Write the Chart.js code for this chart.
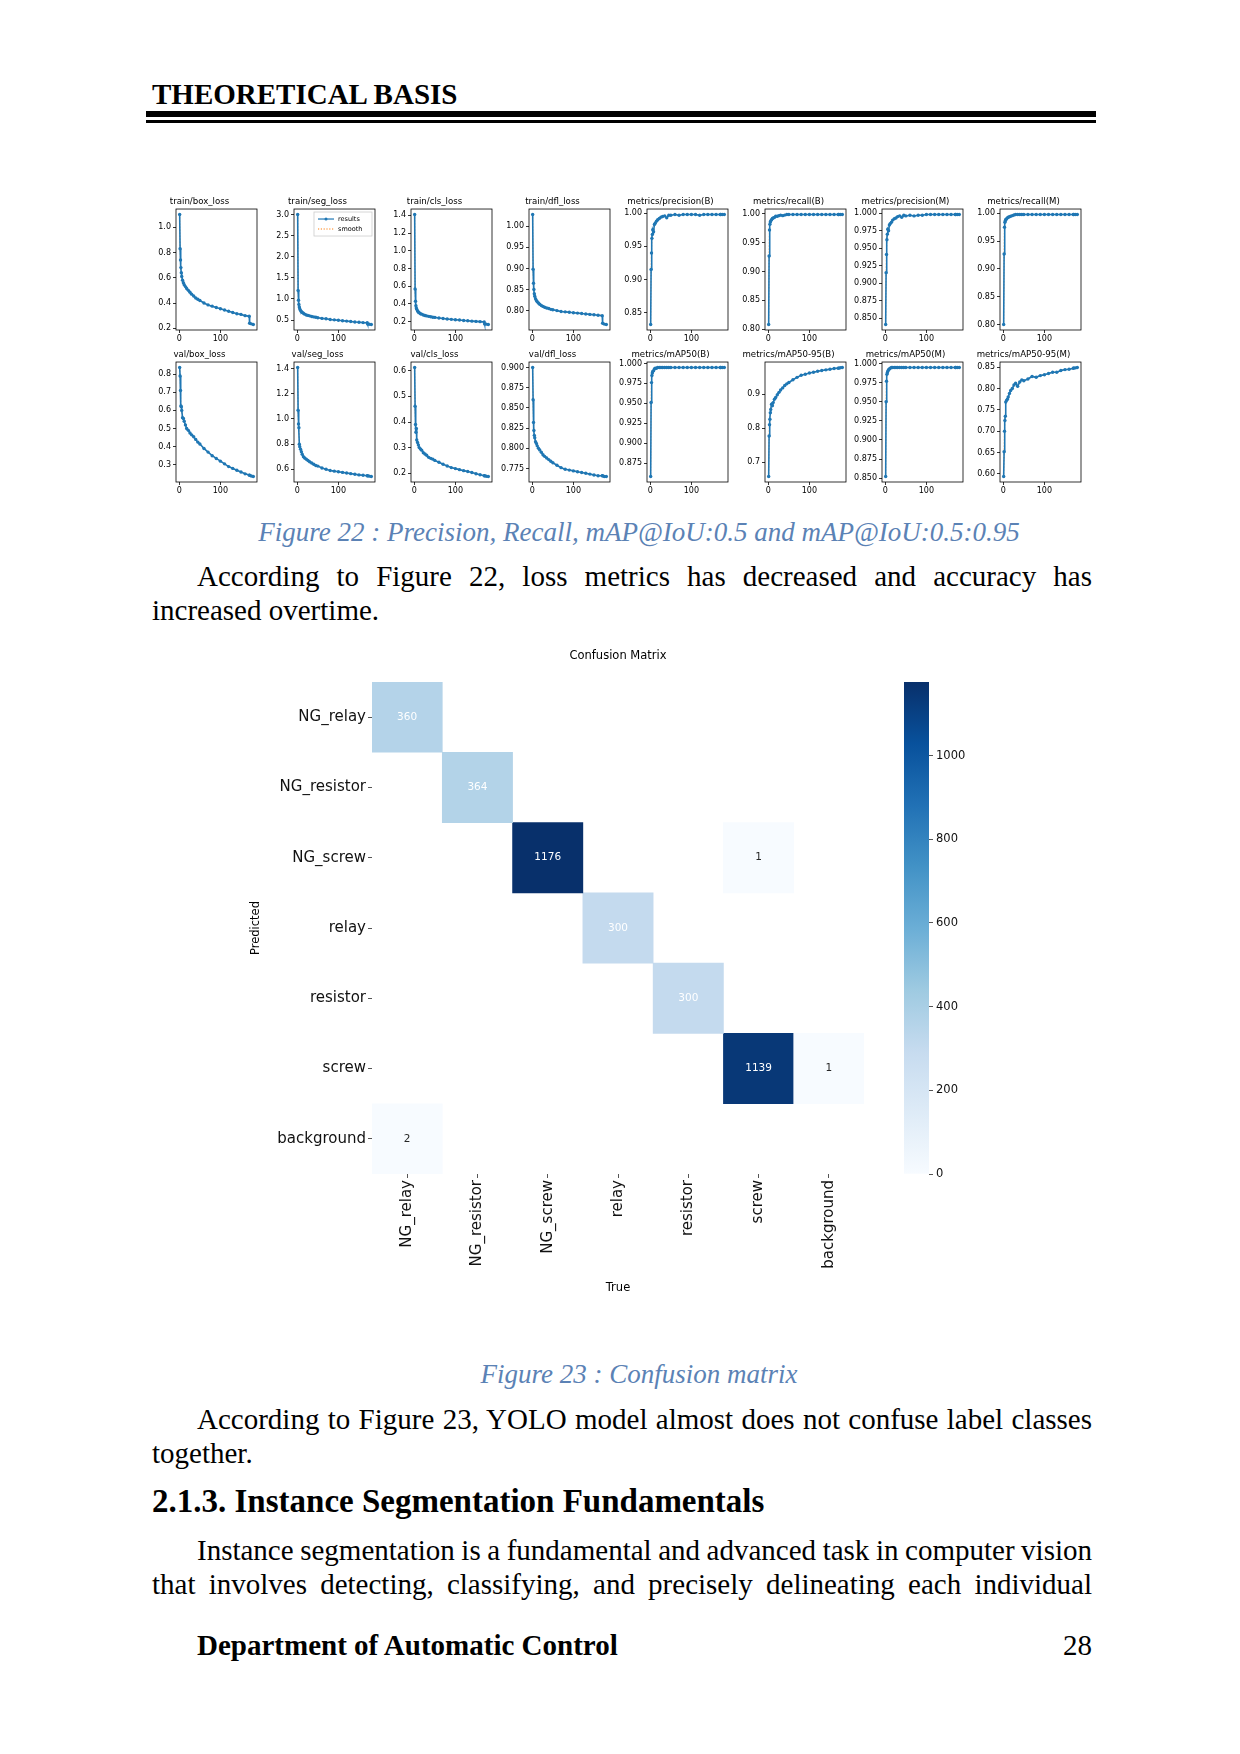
<!DOCTYPE html>
<html>
<head>
<meta charset="utf-8">
<script src="https://cdn.jsdelivr.net/npm/chart.js@4.4.1/dist/chart.umd.min.js"></script>
<style>
  html, body { margin: 0; padding: 0; background: #fff; }
  #page { position: relative; width: 1240px; height: 1754px; overflow: hidden; background: #fff; }
  .t { position: absolute; font-family: "Liberation Serif", "Times New Roman", serif; line-height: 1; color: #000; white-space: nowrap; }
  .cap { font-style: italic; color: #5b82b5; text-align: center; }
  .rule { position: absolute; background: #000; }
  canvas { position: absolute; }
</style>
</head>
<body>
<div id="page">
  <div class="t" style="left:152px; top:80px; font-size:29px; font-weight:bold;">THEORETICAL BASIS</div>
  <div class="rule" style="left:146px; top:111px; width:950px; height:6px;"></div>
  <div class="rule" style="left:146px; top:120px; width:950px; height:3px;"></div>

  <div class="t cap" style="left:239px; width:800px; top:519px; font-size:27px;">Figure 22 : Precision, Recall, mAP@IoU:0.5 and mAP@IoU:0.5:0.95</div>
  <div class="t j" data-w="895" style="left:197px; top:562px; font-size:29px;">According to Figure 22, loss metrics has decreased and accuracy has</div>
  <div class="t" style="left:152px; top:596px; font-size:29px;">increased overtime.</div>

  <div class="t cap" style="left:239px; width:800px; top:1361px; font-size:27px;">Figure 23 : Confusion matrix</div>
  <div class="t j" data-w="895" style="left:197px; top:1405px; font-size:29px;">According to Figure 23, YOLO model almost does not confuse label classes</div>
  <div class="t" style="left:152px; top:1439px; font-size:29px;">together.</div>
  <div class="t" style="left:152px; top:1485px; font-size:33px; font-weight:bold;">2.1.3. Instance Segmentation Fundamentals</div>
  <div class="t j" data-w="895" style="left:197px; top:1536px; font-size:29px;">Instance segmentation is a fundamental and advanced task in computer vision</div>
  <div class="t j" data-w="940" style="left:152px; top:1570px; font-size:29px;">that involves detecting, classifying, and precisely delineating each individual</div>
  <div class="t" style="left:197px; top:1631px; font-size:29px; font-weight:bold;">Department of Automatic Control</div>
  <div class="t" style="left:992px; width:100px; text-align:right; top:1631px; font-size:29px;">28</div>
</div>
<script>
// ---- training curves (Figure 22) ----
const epochs = [1, 2, 3, 4, 5, 6, 8, 10, 12, 15, 18, 22, 26, 30, 35, 40, 45, 50, 60, 70, 80, 90, 100, 110, 120, 130, 140, 150, 160, 170, 171, 175, 180];

const trainBoxLoss = [1.10, 0.83, 0.74, 0.68, 0.64, 0.61, 0.58, 0.56, 0.545, 0.53, 0.515, 0.50, 0.485, 0.47, 0.455, 0.44, 0.43, 0.42, 0.40, 0.385, 0.375, 0.365, 0.355, 0.345, 0.335, 0.325, 0.315, 0.31, 0.30, 0.295, 0.24, 0.235, 0.23];
const trainSegLoss = [3.0, 1.2, 0.97, 0.87, 0.81, 0.77, 0.73, 0.70, 0.68, 0.66, 0.64, 0.62, 0.61, 0.60, 0.585, 0.575, 0.565, 0.555, 0.54, 0.53, 0.515, 0.505, 0.495, 0.485, 0.475, 0.465, 0.455, 0.45, 0.44, 0.435, 0.405, 0.40, 0.395];
const trainClsLoss = [1.41, 0.57, 0.43, 0.38, 0.355, 0.34, 0.32, 0.31, 0.30, 0.29, 0.285, 0.275, 0.27, 0.265, 0.26, 0.255, 0.25, 0.248, 0.242, 0.236, 0.23, 0.226, 0.222, 0.218, 0.214, 0.21, 0.206, 0.203, 0.20, 0.197, 0.175, 0.172, 0.168];
const trainDflLoss = [1.028, 0.898, 0.865, 0.85, 0.84, 0.834, 0.828, 0.824, 0.821, 0.818, 0.815, 0.812, 0.81, 0.808, 0.806, 0.805, 0.803, 0.802, 0.80, 0.798, 0.797, 0.796, 0.795, 0.794, 0.793, 0.792, 0.791, 0.79, 0.789, 0.788, 0.77, 0.768, 0.767];
const precisionB = [0.832, 0.915, 0.940, 0.962, 0.968, 0.975, 0.972, 0.983, 0.985, 0.988, 0.990, 0.992, 0.994, 0.995, 0.996, 0.993, 0.997, 0.997, 0.998, 0.997, 0.998, 0.998, 0.998, 0.998, 0.997, 0.998, 0.998, 0.998, 0.998, 0.998, 0.998, 0.998, 0.998];
const recallB = [0.808, 0.927, 0.972, 0.982, 0.986, 0.988, 0.990, 0.992, 0.993, 0.994, 0.996, 0.996, 0.997, 0.998, 0.997, 0.998, 0.999, 0.999, 0.999, 0.999, 0.999, 0.999, 0.999, 0.999, 0.999, 0.999, 0.999, 0.999, 0.999, 0.999, 0.999, 0.999, 0.999];
const precisionM = [0.841, 0.915, 0.941, 0.962, 0.970, 0.977, 0.975, 0.983, 0.985, 0.987, 0.990, 0.992, 0.993, 0.995, 0.996, 0.994, 0.997, 0.996, 0.997, 0.996, 0.997, 0.997, 0.998, 0.998, 0.998, 0.998, 0.998, 0.998, 0.998, 0.998, 0.998, 0.998, 0.998];
const recallM = [0.800, 0.927, 0.975, 0.984, 0.987, 0.989, 0.990, 0.992, 0.993, 0.994, 0.995, 0.996, 0.997, 0.998, 0.998, 0.998, 0.998, 0.998, 0.998, 0.998, 0.998, 0.998, 0.998, 0.998, 0.998, 0.998, 0.998, 0.998, 0.998, 0.998, 0.998, 0.998, 0.998];
const valBoxLoss = [0.837, 0.79, 0.71, 0.625, 0.62, 0.60, 0.56, 0.555, 0.54, 0.52, 0.50, 0.49, 0.475, 0.465, 0.455, 0.44, 0.425, 0.415, 0.39, 0.37, 0.35, 0.335, 0.32, 0.305, 0.29, 0.28, 0.27, 0.26, 0.25, 0.243, 0.242, 0.238, 0.235];
const valSegLoss = [1.41, 1.07, 0.96, 0.93, 0.80, 0.78, 0.76, 0.74, 0.72, 0.70, 0.69, 0.68, 0.67, 0.66, 0.65, 0.64, 0.63, 0.625, 0.61, 0.60, 0.59, 0.585, 0.58, 0.575, 0.57, 0.565, 0.56, 0.555, 0.552, 0.548, 0.548, 0.545, 0.542];
const valClsLoss = [0.613, 0.462, 0.39, 0.36, 0.375, 0.33, 0.32, 0.31, 0.30, 0.295, 0.29, 0.28, 0.275, 0.27, 0.262, 0.258, 0.255, 0.25, 0.243, 0.235, 0.228, 0.222, 0.218, 0.214, 0.21, 0.207, 0.203, 0.198, 0.194, 0.19, 0.19, 0.188, 0.187];
const valDflLoss = [0.900, 0.860, 0.832, 0.822, 0.816, 0.813, 0.808, 0.806, 0.803, 0.800, 0.798, 0.795, 0.792, 0.790, 0.788, 0.786, 0.784, 0.782, 0.779, 0.776, 0.774, 0.773, 0.772, 0.771, 0.770, 0.769, 0.768, 0.767, 0.766, 0.766, 0.766, 0.765, 0.765];
const map50B = [0.858, 0.951, 0.976, 0.985, 0.988, 0.990, 0.991, 0.993, 0.994, 0.994, 0.995, 0.995, 0.995, 0.995, 0.995, 0.995, 0.995, 0.995, 0.995, 0.995, 0.995, 0.995, 0.995, 0.995, 0.995, 0.995, 0.995, 0.995, 0.995, 0.995, 0.995, 0.995, 0.995];
const map5095B = [0.658, 0.777, 0.81, 0.826, 0.845, 0.855, 0.87, 0.866, 0.875, 0.885, 0.89, 0.898, 0.905, 0.912, 0.918, 0.925, 0.93, 0.934, 0.942, 0.949, 0.955, 0.958, 0.962, 0.964, 0.967, 0.969, 0.971, 0.973, 0.975, 0.976, 0.976, 0.977, 0.978];
const map50M = [0.852, 0.950, 0.977, 0.986, 0.988, 0.990, 0.992, 0.993, 0.994, 0.995, 0.995, 0.995, 0.995, 0.995, 0.995, 0.995, 0.995, 0.995, 0.995, 0.995, 0.995, 0.995, 0.995, 0.995, 0.995, 0.995, 0.995, 0.995, 0.995, 0.995, 0.995, 0.995, 0.995];
const map5095M = [0.594, 0.652, 0.700, 0.725, 0.735, 0.768, 0.772, 0.775, 0.78, 0.788, 0.795, 0.80, 0.808, 0.812, 0.805, 0.815, 0.82, 0.818, 0.822, 0.828, 0.826, 0.83, 0.832, 0.835, 0.838, 0.838, 0.842, 0.844, 0.845, 0.847, 0.848, 0.848, 0.849];

const panelTitles = [
  "train/box_loss", "train/seg_loss", "train/cls_loss", "train/dfl_loss",
  "metrics/precision(B)", "metrics/recall(B)", "metrics/precision(M)", "metrics/recall(M)",
  "val/box_loss", "val/seg_loss", "val/cls_loss", "val/dfl_loss",
  "metrics/mAP50(B)", "metrics/mAP50-95(B)", "metrics/mAP50(M)", "metrics/mAP50-95(M)",
];
const panelSeries = [
  trainBoxLoss, trainSegLoss, trainClsLoss, trainDflLoss,
  precisionB, recallB, precisionM, recallM,
  valBoxLoss, valSegLoss, valClsLoss, valDflLoss,
  map50B, map5095B, map50M, map5095M,
];
const panelYTicks = [
  [0.2, 0.4, 0.6, 0.8, 1.0], [0.5, 1.0, 1.5, 2.0, 2.5, 3.0], [0.2, 0.4, 0.6, 0.8, 1.0, 1.2, 1.4], [0.80, 0.85, 0.90, 0.95, 1.00],
  [0.85, 0.90, 0.95, 1.00], [0.80, 0.85, 0.90, 0.95, 1.00], [0.850, 0.875, 0.900, 0.925, 0.950, 0.975, 1.000], [0.80, 0.85, 0.90, 0.95, 1.00],
  [0.3, 0.4, 0.5, 0.6, 0.7, 0.8], [0.6, 0.8, 1.0, 1.2, 1.4], [0.2, 0.3, 0.4, 0.5, 0.6], [0.775, 0.800, 0.825, 0.850, 0.875, 0.900],
  [0.875, 0.900, 0.925, 0.950, 0.975, 1.000], [0.7, 0.8, 0.9], [0.850, 0.875, 0.900, 0.925, 0.950, 0.975, 1.000], [0.60, 0.65, 0.70, 0.75, 0.80, 0.85],
];
const panelDecimals = [1, 1, 1, 2, 2, 2, 3, 2, 1, 1, 1, 3, 3, 1, 3, 2];
const xTicks = [0, 100];

// ---- confusion matrix (Figure 23) ----
const classNames = ["NG_relay", "NG_resistor", "NG_screw", "relay", "resistor", "screw", "background"];
const matrixRows = [
  [360, 0, 0, 0, 0, 0, 0],
  [0, 364, 0, 0, 0, 0, 0],
  [0, 0, 1176, 0, 0, 1, 0],
  [0, 0, 0, 300, 0, 0, 0],
  [0, 0, 0, 0, 300, 0, 0],
  [0, 0, 0, 0, 0, 1139, 1],
  [2, 0, 0, 0, 0, 0, 0],
];
const colorbarTicks = [0, 200, 400, 600, 800, 1000];

// matplotlib "Blues"
const bluesStops = ["#f7fbff", "#deebf7", "#c6dbef", "#9ecae1", "#6baed6", "#4292c6", "#2171b5", "#08519c", "#08306b"];

// stretch each justified text line to its column width
document.querySelectorAll(".j").forEach((el) => {
  const target = parseFloat(el.dataset.w);
  const natural = el.getBoundingClientRect().width;
  const spaces = (el.textContent.match(/ /g) || []).length;
  if (spaces) el.style.wordSpacing = (target - natural) / spaces + "px";
});

function hexToRgb(h) {
  return [parseInt(h.slice(1, 3), 16), parseInt(h.slice(3, 5), 16), parseInt(h.slice(5, 7), 16)];
}
function blues(t) {
  t = Math.max(0, Math.min(1, t));
  const pos = t * (bluesStops.length - 1);
  const i = Math.min(Math.floor(pos), bluesStops.length - 2);
  const f = pos - i;
  const a = hexToRgb(bluesStops[i]), b = hexToRgb(bluesStops[i + 1]);
  const c = a.map((v, k) => Math.round(v + (b[k] - v) * f));
  return `rgb(${c[0]}, ${c[1]}, ${c[2]})`;
}

Chart.defaults.font.family = "'DejaVu Sans', sans-serif";
Chart.defaults.color = "#000";
Chart.defaults.animation = false;

const page = document.getElementById("page");

function addCanvas(left, top, w, h) {
  const c = document.createElement("canvas");
  c.width = w;
  c.height = h;
  c.style.left = left + "px";
  c.style.top = top + "px";
  c.style.width = w + "px";
  c.style.height = h + "px";
  page.appendChild(c);
  return c;
}

// axes frame like matplotlib spines
const framePlugin = {
  id: "frame",
  afterDraw(chart) {
    const { ctx, chartArea: a } = chart;
    ctx.save();
    ctx.strokeStyle = "#000";
    ctx.lineWidth = 0.8;
    ctx.strokeRect(a.left, a.top, a.right - a.left, a.bottom - a.top);
    ctx.restore();
  },
};

// small legend box drawn inside the axes (only the seg_loss panel)
const legendBoxPlugin = {
  id: "legendBox",
  afterDraw(chart) {
    const { ctx, chartArea: a } = chart;
    const w = 58, h = 24, x = a.right - w - 3, y = a.top + 3;
    ctx.save();
    ctx.fillStyle = "rgba(255,255,255,0.9)";
    ctx.strokeStyle = "#ccc";
    ctx.lineWidth = 0.8;
    ctx.fillRect(x, y, w, h);
    ctx.strokeRect(x, y, w, h);
    ctx.font = "6.5px 'DejaVu Sans'";
    ctx.textBaseline = "middle";
    ctx.strokeStyle = "#1f77b4";
    ctx.lineWidth = 1.2;
    ctx.beginPath();
    ctx.moveTo(x + 4, y + 7);
    ctx.lineTo(x + 20, y + 7);
    ctx.stroke();
    ctx.fillStyle = "#1f77b4";
    ctx.beginPath();
    ctx.arc(x + 12, y + 7, 1.5, 0, Math.PI * 2);
    ctx.fill();
    ctx.fillStyle = "#000";
    ctx.fillText("results", x + 24, y + 7);
    ctx.strokeStyle = "#ff7f0e";
    ctx.setLineDash([1.2, 1.6]);
    ctx.beginPath();
    ctx.moveTo(x + 4, y + 17);
    ctx.lineTo(x + 20, y + 17);
    ctx.stroke();
    ctx.setLineDash([]);
    ctx.fillText("smooth", x + 24, y + 17);
    ctx.restore();
  },
};

const xMin = epochs[0] - (epochs[epochs.length - 1] - epochs[0]) * 0.05;
const xMax = epochs[epochs.length - 1] + (epochs[epochs.length - 1] - epochs[0]) * 0.05;

panelSeries.forEach((values, i) => {
  const col = i % 8;
  const row = Math.floor(i / 8);
  const boxLeft = 176 + col * 117.7;
  const boxTop = row === 0 ? 209 : 362;
  const boxH = row === 0 ? 121 : 120;
  const canvas = addCanvas(Math.round(boxLeft - 34), boxTop - 14, 121, 14 + boxH + 12);

  const lo = Math.min(...values);
  const hi = Math.max(...values);
  const pad = (hi - lo) * 0.05;
  const points = epochs.map((e, k) => ({ x: e, y: values[k] }));

  new Chart(canvas, {
    type: "line",
    data: {
      datasets: [
        {
          label: "results",
          data: points,
          borderColor: "#1f77b4",
          borderWidth: 1.6,
          pointRadius: 1.7,
          pointBackgroundColor: "#1f77b4",
          pointBorderWidth: 0,
          tension: 0,
        },
        {
          label: "smooth",
          data: points,
          borderColor: "rgba(255,127,14,0.85)",
          borderWidth: 1,
          borderDash: [1.2, 1.8],
          pointRadius: 0,
          tension: 0.3,
        },
      ],
    },
    options: {
      responsive: false,
      events: [],
      layout: { padding: { left: 0, right: 6, top: 0, bottom: 0 } },
      plugins: {
        legend: { display: false },
        tooltip: { enabled: false },
        title: {
          display: true,
          text: panelTitles[i],
          font: { size: 8.6, weight: "normal" },
          padding: { top: 2, bottom: 1.7 },
        },
      },
      scales: {
        x: {
          type: "linear",
          min: xMin,
          max: xMax,
          afterBuildTicks: (s) => { s.ticks = xTicks.map((v) => ({ value: v })); },
          afterFit: (s) => { s.height = 12; },
          ticks: { font: { size: 8 }, padding: 1, maxRotation: 0 },
          grid: { drawOnChartArea: false, tickLength: 3, color: "#000", lineWidth: 0.8 },
          border: { display: false },
        },
        y: {
          min: lo - pad,
          max: hi + pad,
          afterBuildTicks: (s) => { s.ticks = panelYTicks[i].map((v) => ({ value: v })); },
          afterFit: (s) => { s.width = 34; },
          ticks: {
            font: { size: 8 },
            padding: 2,
            callback: (v) => Number(v).toFixed(panelDecimals[i]),
          },
          grid: { drawOnChartArea: false, tickLength: 3, color: "#000", lineWidth: 0.8 },
          border: { display: false },
        },
      },
    },
    plugins: i === 1 ? [framePlugin, legendBoxPlugin] : [framePlugin],
  });
});

// ---- confusion matrix ----
const vmax = Math.max(...matrixRows.flat());

const cellLabelPlugin = {
  id: "cellLabels",
  afterDatasetsDraw(chart) {
    const ctx = chart.ctx;
    ctx.save();
    ctx.font = "10.5px 'DejaVu Sans'";
    ctx.textAlign = "center";
    ctx.textBaseline = "middle";
    chart.data.datasets.forEach((ds, di) => {
      chart.getDatasetMeta(di).data.forEach((bar, k) => {
        const v = ds.data[k].v;
        const p = bar.getCenterPoint();
        ctx.fillStyle = v / vmax > 0.15 ? "#ffffff" : "#262626";
        ctx.fillText(String(v), p.x, p.y);
      });
    });
    ctx.restore();
  },
};

const cmDatasets = classNames.map((rowName, r) => ({
  label: rowName,
  data: classNames
    .map((colName, c) => ({ x: colName, y: [r, r + 1], v: matrixRows[r][c] }))
    .filter((d) => d.v > 0),
  backgroundColor: (ctx) => (ctx.raw ? blues(ctx.raw.v / vmax) : "transparent"),
  borderWidth: 0,
  grouped: false,
  barPercentage: 1,
  categoryPercentage: 1,
}));

new Chart(addCanvas(230, 640, 650, 680), {
  type: "bar",
  data: { labels: classNames, datasets: cmDatasets },
  options: {
    responsive: false,
    events: [],
    layout: { padding: { left: 0, right: 16, top: 0, bottom: 0 } },
    plugins: {
      legend: { display: false },
      tooltip: { enabled: false },
      title: {
        display: true,
        fullSize: false,
        text: "Confusion Matrix",
        font: { size: 11.5, weight: "normal" },
        padding: { top: 9, bottom: 19.2 },
      },
    },
    scales: {
      x: {
        type: "category",
        offset: true,
        afterFit: (s) => { s.height = 146; },
        ticks: { font: { size: 15 }, minRotation: 90, maxRotation: 90, padding: 2, color: "#111" },
        grid: { drawOnChartArea: false, offset: false, tickLength: 4, color: "#555" },
        border: { display: false },
        title: { display: true, text: "True", font: { size: 11.5 }, padding: { top: 0, bottom: 25 } },
      },
      y: {
        type: "linear",
        reverse: true,
        min: 0,
        max: classNames.length,
        afterBuildTicks: (s) => { s.ticks = classNames.map((n, k) => ({ value: k + 0.5 })); },
        afterFit: (s) => { s.width = 142; },
        ticks: { font: { size: 15 }, padding: 2, color: "#111", callback: (v) => classNames[Math.floor(v)] },
        grid: { drawOnChartArea: false, tickLength: 4, color: "#555" },
        border: { display: false },
        title: { display: true, text: "Predicted", font: { size: 11.5 }, padding: { top: 19, bottom: 0 } },
      },
    },
  },
  plugins: [cellLabelPlugin],
});

// ---- colorbar ----
new Chart(addCanvas(894, 640, 95, 680), {
  type: "bar",
  data: {
    labels: ["scale"],
    datasets: [
      {
        data: [[0, vmax]],
        backgroundColor: (ctx) => {
          const area = ctx.chart.chartArea;
          if (!area) return "#f7fbff";
          const g = ctx.chart.ctx.createLinearGradient(0, area.bottom, 0, area.top);
          bluesStops.forEach((c, k) => g.addColorStop(k / (bluesStops.length - 1), c));
          return g;
        },
        borderWidth: 0,
        barPercentage: 1,
        categoryPercentage: 1,
      },
    ],
  },
  options: {
    responsive: false,
    events: [],
    layout: { padding: { left: 10, right: 5, top: 42, bottom: 146 } },
    plugins: { legend: { display: false }, tooltip: { enabled: false } },
    scales: {
      x: { display: false },
      y: {
        position: "right",
        min: 0,
        max: vmax,
        afterBuildTicks: (s) => { s.ticks = colorbarTicks.map((v) => ({ value: v })); },
        afterFit: (s) => { s.width = 55; },
        ticks: { font: { size: 11.5 }, padding: 3, color: "#111", callback: (v) => String(v) },
        grid: { drawOnChartArea: false, tickLength: 4, color: "#555" },
        border: { display: false },
      },
    },
  },
});
</script>
</body>
</html>
